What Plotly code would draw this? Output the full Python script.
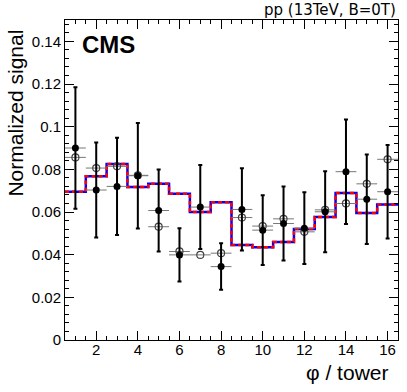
import plotly.graph_objects as go

# phi towers 1..16
torres = list(range(1, 17))

# histogram (red solid / blue dashed, same values)
hist_vals = [0.0695, 0.0767, 0.0825, 0.0717, 0.0732, 0.0685, 0.0600, 0.0646,
             0.0445, 0.0435, 0.0459, 0.0520, 0.0576, 0.0689, 0.0595, 0.0635]

# filled points with errors
cheio_vals = [0.0900, 0.0703, 0.0720, 0.0770, 0.0607, 0.0399, 0.0623, 0.0344,
              0.0612, 0.0515, 0.0546, 0.0524, 0.0601, 0.0789, 0.0660, 0.0695]
cheio_err = [0.0285, 0.0223, 0.0228, 0.0247, 0.0192, 0.0125, 0.0197, 0.0109,
             0.0193, 0.0163, 0.0173, 0.0168, 0.0190, 0.0245, 0.0210, 0.0219]

# open points
aberto_vals = [0.0856, 0.0806, 0.0814, 0.0772, 0.0531, 0.0415, 0.0399, 0.0407,
               0.0574, 0.0534, 0.0568, 0.0507, 0.0610, 0.0640, 0.0732, 0.0847]

y_ticks = [0, 0.02, 0.04, 0.06, 0.08, 0.1, 0.12, 0.14]
y_labels = ["0", "0.02", "0.04", "0.06", "0.08", "0.1", "0.12", "0.14"]
x_ticks = [2, 4, 6, 8, 10, 12, 14, 16]

# bordas dos bins para o histograma em degraus
bordas = [t - 0.5 for t in torres] + [torres[-1] + 0.5]
degraus = hist_vals + [hist_vals[-1]]

fig = go.Figure()

fig.add_trace(go.Scatter(
    x=bordas, y=degraus, mode="lines", line_shape="hv",
    line=dict(color="#0000ff", width=2.5), showlegend=False))
fig.add_trace(go.Scatter(
    x=bordas, y=degraus, mode="lines", line_shape="hv",
    line=dict(color="#ff0000", width=2.5, dash="4px,3px"), showlegend=False))

# pontos abertos
fig.add_trace(go.Scatter(
    x=torres, y=aberto_vals, mode="markers",
    marker=dict(symbol="circle-open", size=7, color="#444", line=dict(width=1.2)),
    error_x=dict(type="constant", value=0.5, color="#777", thickness=1, width=0),
    showlegend=False))

# pontos cheios
fig.add_trace(go.Scatter(
    x=torres, y=cheio_vals, mode="markers",
    marker=dict(symbol="circle", size=7, color="black"),
    error_x=dict(type="constant", value=0.5, color="#777", thickness=1, width=0),
    error_y=dict(type="data", array=cheio_err, color="black", thickness=2, width=2),
    showlegend=False))

fonte = "Liberation Sans, Arial, sans-serif"

fig.add_annotation(text="<b>CMS</b>", xref="paper", yref="paper",
                   x=0.045, y=0.972, xanchor="left", yanchor="top", showarrow=False,
                   font=dict(family=fonte, size=24, color="black"))
fig.add_annotation(text="pp (13TeV, B=0T)", xref="paper", yref="paper",
                   x=1.0, y=1.0, xanchor="right", yanchor="bottom", yshift=-1, showarrow=False,
                   font=dict(family="DejaVu Sans", size=15, color="black"))
fig.add_annotation(text="Normalized signal", xref="paper", yref="paper",
                   x=-0.15, y=0.975, xanchor="center", yanchor="top", textangle=-90,
                   showarrow=False, font=dict(family=fonte, size=21, color="black"))
fig.add_annotation(text="φ / tower", xref="paper", yref="paper",
                   x=0.976, y=-0.103, xanchor="right", yanchor="middle",
                   showarrow=False, font=dict(family=fonte, size=21, color="black"))

fig.update_layout(
    width=407, height=392,
    margin=dict(l=65, r=9, t=20, b=52),
    plot_bgcolor="white", paper_bgcolor="white",
    font=dict(family=fonte, size=15, color="black"),
)

fig.update_xaxes(
    range=[0.5, 16.5], tickvals=x_ticks, ticks="inside", ticklen=9,
    showline=True, linecolor="black", linewidth=1, mirror="ticks",
    showgrid=False, zeroline=False, tickcolor="black", ticklabelstandoff=-4,
    minor=dict(dtick=0.5, tick0=0, ticks="inside", ticklen=4, tickcolor="black", showgrid=False),
)
fig.update_yaxes(
    range=[0, 0.15], tickvals=y_ticks, ticktext=y_labels, ticks="inside", ticklen=9,
    showline=True, linecolor="black", linewidth=1, mirror="ticks",
    showgrid=False, zeroline=False, tickcolor="black",
    minor=dict(dtick=0.004, tick0=0, ticks="inside", ticklen=4, tickcolor="black", showgrid=False),
)

# tira a margem padrão do <body> para a figura ocupar a janela toda
fig.write_html("out.html", config={"displayModeBar": False},
               post_script="document.body.style.margin='0';")
